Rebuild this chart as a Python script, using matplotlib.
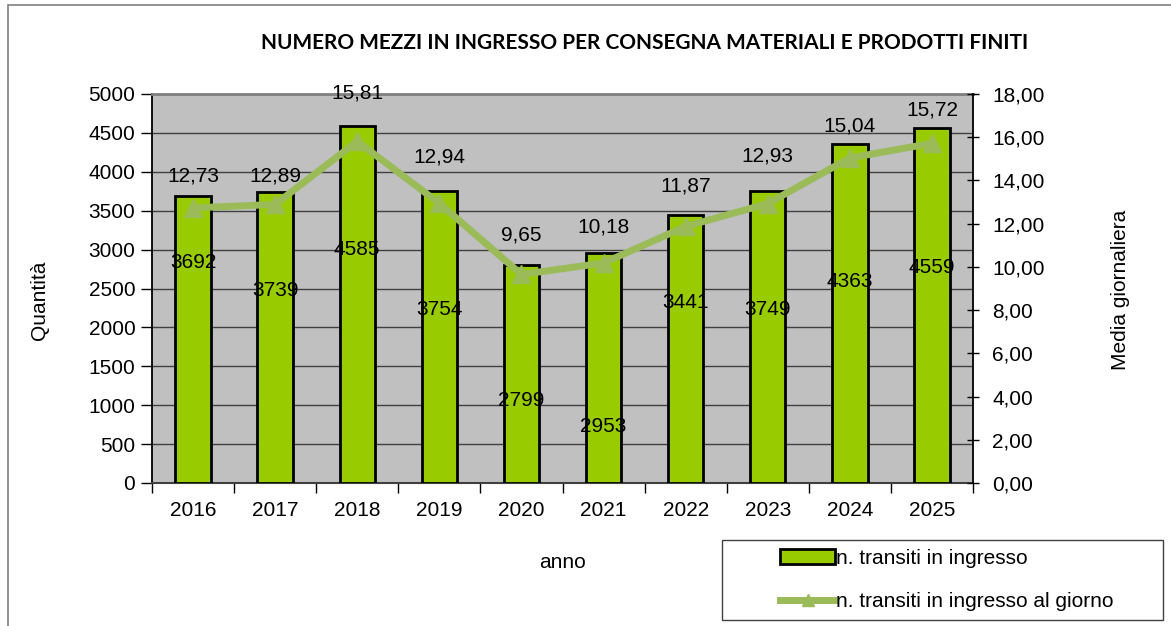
import matplotlib
matplotlib.use("Agg")
import matplotlib.pyplot as plt
from matplotlib.lines import Line2D
from matplotlib.patches import Patch, Rectangle
import numpy as np

years = ["2016", "2017", "2018", "2019", "2020", "2021", "2022", "2023", "2024", "2025"]
transiti = [3692, 3739, 4585, 3754, 2799, 2953, 3441, 3749, 4363, 4559]
media = [12.73, 12.89, 15.81, 12.94, 9.65, 10.18, 11.87, 12.93, 15.04, 15.72]
# vertical placement of bar value labels (left-axis units), as in the reference
bar_label_y = [2840, 2480, 2995, 2224, 1054, 720, 2314, 2224, 2584, 2764]
# offsets of line labels above points (pixels)
line_label_off = [33, 30, 50, 48, 41, 37, 42, 49, 33, 35]

plt.rcParams['font.family'] = ['Liberation Sans', 'DejaVu Sans']
FS = 15

W, H = 1171, 626
fig = plt.figure(figsize=(W/100, H/100), dpi=100)
fig.patch.set_facecolor('white')

# outer border
fig.add_artist(Rectangle((8/W, -0.1), 1.2, (H-5)/H + 0.1, transform=fig.transFigure,
                         fill=False, edgecolor='#808080', lw=1.2))

L, R, T, B = 152, 973, 94, 483
ax = fig.add_axes([L/W, 1-B/H, (R-L)/W, (B-T)/H])
ax.set_facecolor('#C0C0C0')
x = np.arange(len(years))
ax.bar(x, transiti, width=0.43, color='#99CC00', edgecolor='black', linewidth=2, zorder=3)
ax.set_xlim(-0.5, len(years)-0.5)
ax.set_ylim(0, 5000)
ax.set_yticks(np.arange(0, 5001, 500))
ax.yaxis.grid(True, color='#404040', lw=1, zorder=1)
ax.set_axisbelow(True)
ax.set_xticks(x)
ax.set_xticklabels(years, fontsize=FS)
ax.set_xticks(np.arange(-0.5, len(years), 1), minor=True)
ax.tick_params(axis='x', which='major', length=0, pad=13)
ax.tick_params(axis='x', which='minor', length=7, width=1, direction='out')
ax.tick_params(axis='y', labelsize=FS, length=8, width=1, direction='out', pad=4)
ax.spines['top'].set_color('#808080')
ax.spines['top'].set_linewidth(2)
ax.spines['right'].set_visible(False)
ax.spines['left'].set_linewidth(1.3)
ax.spines['bottom'].set_color('#404040')
ax.spines['bottom'].set_linewidth(1.5)

for xi, v, yl in zip(x, transiti, bar_label_y):
    ax.text(xi, yl, str(v), ha='center', va='center', fontsize=FS, zorder=6)

ax2 = ax.twinx()
ax2.plot(x, media, color='#9BBB59', lw=5, marker='^', markersize=13, zorder=5)
ax2.set_ylim(0, 18)
ax2.set_yticks(np.arange(0, 18.01, 2))
ax2.set_yticklabels([f"{v:.2f}".replace('.', ',') for v in np.arange(0, 18.01, 2)], fontsize=FS)
ax2.tick_params(axis='y', length=8, width=1, direction='inout', pad=10)
ax2.spines['right'].set_linewidth(1.3)
for s in ['top', 'left', 'bottom']:
    ax2.spines[s].set_visible(False)
for xi, v, off in zip(x, media, line_label_off):
    ax2.annotate(f"{v:.2f}".replace('.', ','), (xi, v), xytext=(0, off*0.72 - 1),
                 textcoords='offset points', ha='center', va='center', fontsize=FS, zorder=6)

fig.text(40/W, 1-300/H, "Quantità", rotation=90, ha='center', va='center', fontsize=FS)
fig.text(1120/W, 1-290/H, "Media giornaliera", rotation=90, ha='center', va='center', fontsize=FS)
fig.text(562/W, 1-563/H, "anno", ha='center', va='center', fontsize=FS)
fig.text(645/W, 1-43/H, "NUMERO MEZZI IN INGRESSO PER CONSEGNA MATERIALI E PRODOTTI FINITI",
         ha='center', va='center', fontsize=15, fontweight='bold', family=['Lato', 'DejaVu Sans'])

# legend frame
fig.add_artist(Rectangle((722/W, 1-620/H), (1163-722)/W, 80/H, transform=fig.transFigure,
                         fill=True, facecolor='white', edgecolor='#404040', lw=1))
handles = [Patch(facecolor='#99CC00', edgecolor='black', linewidth=2),
           Line2D([0], [0], color='#9BBB59', lw=5, marker='^', markersize=9)]
leg = fig.legend(handles, ["n. transiti in ingresso", "n. transiti in ingresso al giorno"],
                 loc='upper left', bbox_to_anchor=(780/W, 1-549/H), fontsize=FS,
                 frameon=False, handlelength=2.65, handleheight=0.7,
                 handletextpad=0.05, borderpad=0, labelspacing=1.15, borderaxespad=0)

fig.savefig("out.png", dpi=100)
